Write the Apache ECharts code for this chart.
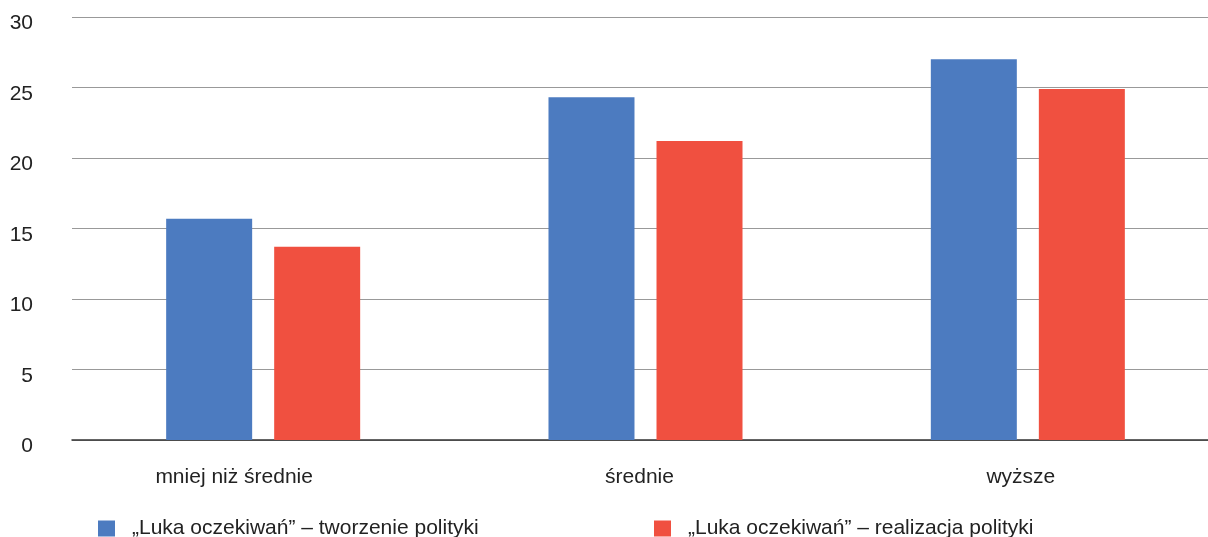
<!DOCTYPE html>
<html>
<head>
<meta charset="utf-8">
<script src="https://cdn.jsdelivr.net/npm/echarts@6/dist/echarts.min.js"></script>
<style>
  html, body { margin: 0; padding: 0; background: #fff; overflow: hidden; }
  #chart { width: 1219px; height: 537px; }
</style>
</head>
<body>
<div id="chart"></div>
<script>
// Education level categories
const categories = ['mniej niż średnie', 'średnie', 'wyższe'];
// Series names
const seriesNames = ['„Luka oczekiwań” – tworzenie polityki', '„Luka oczekiwań” – realizacja polityki'];
// Values per category
const tworzenie = [15.7, 24.3, 27.0];
const realizacja = [13.7, 21.2, 24.9];
// Y axis ticks
const yMin = 0, yMax = 30, yStep = 5;

const font = '"Liberation Sans", Arial, sans-serif';
const labelShift = [58, 12, 14];

const legendBase = {
  top: 518, itemWidth: 17, itemHeight: 16, icon: 'rect', padding: 0,
  textStyle: { fontSize: 21, color: '#222', fontFamily: font, padding: [5, 0, 0, 12] }
};

const chart = echarts.init(document.getElementById('chart'), null, { renderer: 'canvas' });
chart.setOption({
  animation: false,
  backgroundColor: '#ffffff',
  textStyle: { fontFamily: font },
  grid: { left: 72, right: 0, top: 17, bottom: 97, containLabel: false },
  legend: [
    Object.assign({ data: [seriesNames[0]], left: 98 }, legendBase),
    Object.assign({ data: [seriesNames[1]], left: 654 }, legendBase)
  ],
  xAxis: {
    type: 'category',
    data: categories.map((c, i) => ({ value: c, textStyle: { padding: [0, labelShift[i], 0, 0] } })),
    axisLine: { show: true, lineStyle: { color: '#333', width: 1.5 } },
    axisTick: { show: false },
    axisLabel: { fontSize: 21, color: '#222', margin: 27, fontFamily: font }
  },
  yAxis: {
    type: 'value', min: yMin, max: yMax, interval: yStep,
    axisLine: { show: false },
    axisTick: { show: false },
    axisLabel: {
      fontSize: 21, color: '#222', margin: 39, align: 'right', fontFamily: font,
      verticalAlign: 'top', lineHeight: 13
    },
    splitLine: { lineStyle: { color: '#999', width: 1.2 } }
  },
  series: [
    {
      name: seriesNames[0], type: 'bar', data: tworzenie, barWidth: 86, barGap: '25.6%',
      itemStyle: { color: '#4c7bc0' }, z: 3
    },
    {
      name: seriesNames[1], type: 'bar', data: realizacja, barWidth: 86,
      itemStyle: { color: '#f05040' }, z: 3
    }
  ]
});
</script>
</body>
</html>
